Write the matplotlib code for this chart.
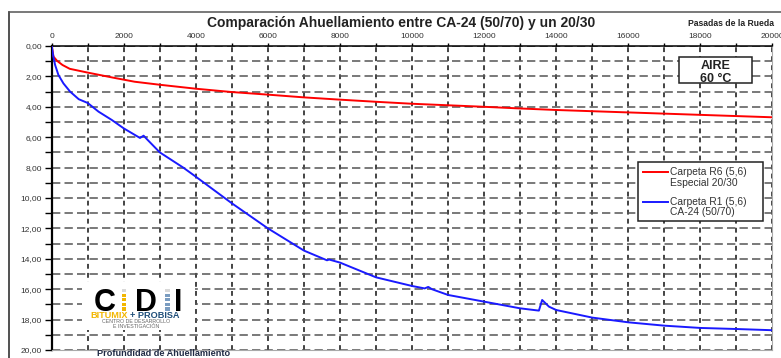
import numpy as np
import matplotlib
matplotlib.use("Agg")
import matplotlib.pyplot as plt
from matplotlib.ticker import MultipleLocator, FuncFormatter
from matplotlib.patches import Rectangle
from matplotlib.lines import Line2D

plt.rcParams['font.family'] = ['Liberation Sans', 'DejaVu Sans']
plt.rcParams['lines.scale_dashes'] = False

# Pasadas de la rueda vs profundidad de ahuellamiento (mm)
pasadas_r6 = [0, 50, 150, 300, 500, 1000, 1700, 2300, 3000, 4000, 5000, 6000,
              7000, 8000, 9000, 10000, 11000, 12000, 13000, 14000, 15000,
              16000, 17000, 18000, 19000, 20000]
prof_r6 = [0.0, 0.70, 0.98, 1.25, 1.50, 1.75, 2.08, 2.35, 2.55, 2.81, 3.03, 3.20,
           3.38, 3.53, 3.67, 3.80, 3.90, 4.00, 4.11, 4.21, 4.29,
           4.37, 4.45, 4.53, 4.61, 4.69]

pasadas_r1 = [0, 45, 95, 185, 325, 510, 750, 1000, 1300, 1670, 2000, 2450, 2550,
              2650, 3000, 3650, 4000, 4800, 5000, 6000, 7000, 7640, 7700, 7850,
              8000, 9000, 10000, 10350, 10450, 10550, 11000, 12000, 13000,
              13520, 13610, 13800, 14000, 15000, 16000, 17000, 18000, 19000, 20000]
prof_r1 = [0.0, 0.70, 1.25, 1.90, 2.46, 3.00, 3.50, 3.75, 4.32, 4.87, 5.42, 6.05, 5.90,
           6.15, 7.00, 8.00, 8.60, 10.00, 10.35, 12.00, 13.46, 14.10, 14.05, 14.15,
           14.25, 15.22, 15.79, 15.95, 15.85, 16.00, 16.38, 16.82, 17.26,
           17.41, 16.71, 17.15, 17.37, 17.87, 18.18, 18.40, 18.55, 18.62, 18.70]

etiqueta_r6 = ["Carpeta R6 (5,6)", "Especial 20/30"]
etiqueta_r1 = ["Carpeta R1 (5,6)", "CA-24 (50/70)"]

W, H = 781, 358
fig = plt.figure(figsize=(W / 100, H / 100), dpi=100)
ax = fig.add_axes([0.0662, 0.0224, 0.9228, 0.8491])

ax.plot(pasadas_r6, prof_r6, color='#ff0000', lw=1.4, zorder=3)
ax.plot(pasadas_r1, prof_r1, color='#1a1aff', lw=1.4, zorder=3)

ax.set_xlim(0, 20000)
ax.set_ylim(20, 0)
ax.xaxis.tick_top()
ax.xaxis.set_major_locator(MultipleLocator(2000))
ax.xaxis.set_minor_locator(MultipleLocator(1000))
ax.yaxis.set_major_locator(MultipleLocator(2))
ax.yaxis.set_minor_locator(MultipleLocator(1))
ax.yaxis.set_major_formatter(FuncFormatter(lambda v, p: f"{v:.2f}".replace('.', ',')))
ax.xaxis.set_major_formatter(FuncFormatter(lambda v, p: f"{int(v)}"))

ax.tick_params(axis='x', which='both', direction='out', length=2, width=1,
               labelsize=6, labelcolor='#333333', pad=2)
ax.tick_params(axis='y', which='both', direction='out', length=5, width=1,
               labelsize=6, labelcolor='#333333', pad=2)

# grilla punteada
ax.grid(axis='y', which='both', color='#555555', lw=1.1, dashes=(6, 3))
ax.grid(axis='x', which='both', color='#111111', lw=1.1, dashes=(3.5, 3))

ax.spines['left'].set_linewidth(1.6)
ax.spines['top'].set_linewidth(1.1)
for s in ['right', 'bottom']:
    ax.spines[s].set_color('#aaaaaa')
    ax.spines[s].set_linewidth(0.8)

# titulos
fig.text(0.514, 0.937, "Comparación Ahuellamiento entre CA-24 (50/70) y un 20/30",
         ha='center', va='center', fontsize=10, fontweight='bold', color='#222222')
fig.text(0.881, 0.933, "Pasadas de la Rueda", ha='left', va='center',
         fontsize=6.2, fontweight='bold', color='#222222')
fig.text(0.124, 0.013, "Profundidad de Ahuellamiento", ha='left', va='center',
         fontsize=6.6, fontweight='bold', color='#1f2a44')

# recuadro AIRE 60 °C
ax.add_patch(Rectangle((0.8703, 0.8773), 0.1012, 0.0875, transform=ax.transAxes,
                       facecolor='white', edgecolor='#222222', lw=1.1, zorder=4))
ax.text(0.9216, 0.925, "AIRE", transform=ax.transAxes, ha='center', va='baseline',
        fontsize=9, fontweight='bold', color='#222222', zorder=5)
ax.text(0.9216, 0.883, "60 °C", transform=ax.transAxes, ha='center', va='baseline',
        fontsize=9, fontweight='bold', color='#222222', zorder=5)

# leyenda
ax.add_patch(Rectangle((0.8134, 0.4243), 0.1734, 0.1941, transform=ax.transAxes,
                       facecolor='white', edgecolor='#222222', lw=1.1, zorder=4))
for col, lab, yl in [('#ff0000', etiqueta_r6, 0.5845), ('#1a1aff', etiqueta_r1, 0.4878)]:
    ax.add_line(Line2D([0.8203, 0.8550], [yl, yl], transform=ax.transAxes,
                       color=col, lw=1.4, zorder=5))
    ax.text(0.858, yl, lab[0], transform=ax.transAxes, ha='left', va='center',
            fontsize=7.4, color='#333333', zorder=5)
    ax.text(0.858, yl - 0.035, lab[1], transform=ax.transAxes, ha='left', va='center',
            fontsize=7.4, color='#333333', zorder=5)


# logo CDI (coordenadas en pixeles desde arriba a la izquierda)
def px_rect(x0, y0, x1, y1, color, z=5):
    fig.add_artist(Rectangle((x0 / W, 1 - y1 / H), (x1 - x0) / W, (y1 - y0) / H,
                             transform=fig.transFigure, facecolor=color,
                             edgecolor='none', zorder=z))


px_rect(82, 282, 195, 330, 'white', z=4)
for letra, xc in [("C", 104.5), ("D", 145.5), ("I", 178.5)]:
    fig.text(xc / W, 1 - 311 / H, letra, ha='center', va='baseline',
             fontsize=22, fontweight='heavy', color='black', zorder=6)
for xc, col in [(122, '#f2b600'), (165, '#7a9cc0')]:
    for k in range(5):
        yt = 289 + k * 4.6
        px_rect(xc, yt, xc + 4.5, yt + 3.2, '#d8d8d8' if k == 0 else col, z=6)

fig.text(90 / W, 1 - 318.5 / H, "BITUMIX", ha='left', va='baseline',
         fontsize=6.6, fontweight='bold', color='#f2b600', zorder=6)
fig.text(129.5 / W, 1 - 318.5 / H, "+ PROBISA", ha='left', va='baseline',
         fontsize=6.6, fontweight='bold', color='#1f4e79', zorder=6)
fig.text(136 / W, 1 - 324 / H, "CENTRO DE DESARROLLO\nE INVESTIGACIÓN",
         ha='center', va='center', fontsize=3.8, color='#666666',
         linespacing=0.95, zorder=6)

# marco exterior
fig.add_artist(Line2D([9 / W, 9 / W], [0, 1 - 12 / H], color='#222222', lw=1.1))
fig.add_artist(Line2D([9 / W, 1], [1 - 12 / H, 1 - 12 / H], color='#555555', lw=1.1))

fig.savefig("out.png", dpi=100, facecolor='white')
